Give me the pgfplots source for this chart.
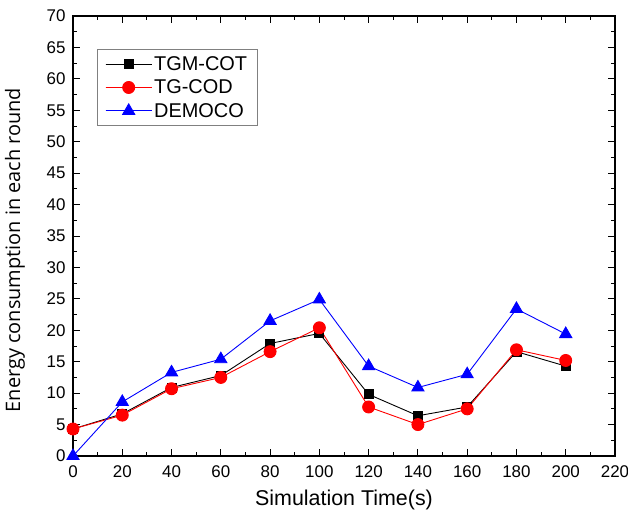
\documentclass[border=0pt]{standalone}
\usepackage{fontspec}
\setmainfont{Liberation Sans}
\newfontfamily\ylabfont{Open Sans}
\usepackage{pgfplots}
\pgfplotsset{compat=1.18}
\begin{document}
\begin{tikzpicture}
\useasboundingbox (-73bp,-60bp) rectangle (555bp,456bp);
\begin{axis}[
 scale only axis, width=542bp, height=440bp,
 xmin=0,xmax=220,ymin=0,ymax=70,
 xtick={0,20,...,220}, ytick={0,5,...,70},
 minor x tick num=1, minor y tick num=1,
 tick align=inside, major tick length=7bp, minor tick length=4bp,
 tick style={black, line width=1bp},
 axis line style={line width=1.2bp},
 xticklabel={\fontsize{17}{21}\selectfont\pgfmathprintnumber[assume math mode=true]{\tick}},
 yticklabel={\fontsize{17}{21}\selectfont\pgfmathprintnumber[assume math mode=true]{\tick}},
 xticklabel style={yshift=-6bp},
 yticklabel style={xshift=-4bp},
 /pgf/number format/assume math mode=true,
 xlabel={Simulation Time(s)}, ylabel={\ylabfont Energy consumption in each round},
 xlabel style={font=\fontsize{21.5}{25}\selectfont, at={(axis description cs:0.5,-0.1)}, anchor=center},
 ylabel style={font=\fontsize{20}{24}\selectfont, at={(axis description cs:-0.107,0.468)}, anchor=center},
 legend style={at={(rel axis cs:0.044,0.925)}, anchor=north west, draw=gray, line width=0.8bp,
   font=\fontsize{20}{24}\selectfont, row sep=4bp, inner xsep=8bp, inner ysep=5bp},
 legend cell align=left,
 legend image code/.code={\draw[#1] (0bp,0bp) -- (46bp,0bp); \draw[#1, mark repeat=2, mark phase=2] plot coordinates {(0bp,0bp) (23bp,0bp) (46bp,0bp)};},
]
\addplot[black, line width=0.9bp, mark=square*, mark size=4.5bp] coordinates {
(0,4.3) (20,6.7) (40,10.9) (60,12.8) (80,17.9) (100,19.5) (120,9.8) (140,6.4) (160,7.8) (180,16.6) (200,14.3)};
\addlegendentry{TGM-COT}
\addplot[red, line width=0.9bp, mark=*, mark size=6bp] coordinates {
(0,4.3) (20,6.5) (40,10.7) (60,12.5) (80,16.6) (100,20.4) (120,7.8) (140,5.0) (160,7.5) (180,16.9) (200,15.2)};
\addlegendentry{TG-COD}
\addplot[blue, line width=0.9bp, mark=triangle*, mark size=7bp] coordinates {
(0,0) (20,8.6) (40,13.3) (60,15.4) (80,21.5) (100,24.9) (120,14.3) (140,10.9) (160,13.0) (180,23.4) (200,19.4)};
\addlegendentry{DEMOCO}
\end{axis}
\end{tikzpicture}
\end{document}
